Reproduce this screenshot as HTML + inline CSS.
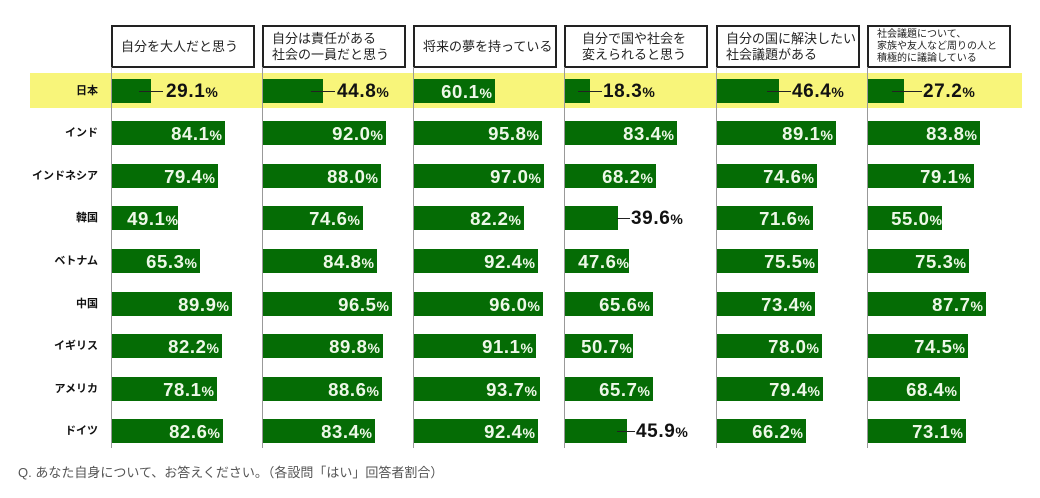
<!DOCTYPE html>
<html><head><meta charset="utf-8"><style>
body{margin:0;width:1040px;height:498px;background:#fff;position:relative;overflow:hidden;font-family:"Liberation Sans","Noto Sans CJK JP",sans-serif}
.h{position:absolute;top:25px;width:140px;height:39px;border:2px solid #222;box-sizing:content-box;font-size:13px;line-height:16px;color:#222;display:flex;align-items:center;padding-left:0}
.h span{padding-left:8px}
.h.s{font-size:10px;line-height:12px}
.v{position:absolute;top:67px;width:1px;height:381px;background:#999}
.y{position:absolute;left:30px;top:73px;width:992px;height:35px;background:#f8f57a}
.r{position:absolute;left:0;width:1040px;height:24px}
.n{position:absolute;right:942px;top:0;line-height:24px;font-size:11px;font-weight:bold;color:#111;white-space:nowrap}
.b{position:absolute;top:0;height:24px;background:#056c05;color:#eef8e8;font-weight:bold;font-size:18.5px;letter-spacing:0.6px;line-height:25px;text-align:right;box-sizing:border-box;padding-right:3px;white-space:nowrap}
.b i,.o i{font-style:normal;font-size:14px;letter-spacing:0}
.o{position:absolute;top:0;line-height:25px;font-weight:bold;font-size:19px;letter-spacing:0.6px;color:#111;white-space:nowrap}
.l{position:absolute;top:12px;height:1px;width:24px;background:#222}
.f{position:absolute;left:18px;top:462px;font-size:13px;color:#555}
</style></head><body>
<div class="h" style="left:111px"><span>自分を大人だと思う</span></div>
<div class="h" style="left:262px"><span>自分は責任がある<br>社会の一員だと思う</span></div>
<div class="h" style="left:413px"><span>将来の夢を持っている</span></div>
<div class="h" style="left:564px"><span style="padding-left:16px">自分で国や社会を<br>変えられると思う</span></div>
<div class="h" style="left:716px"><span>自分の国に解決したい<br>社会議題がある</span></div>
<div class="h s" style="left:867px"><span>社会議題について、<br>家族や友人など周りの人と<br>積極的に議論している</span></div>
<div class="y"></div>
<div class="v" style="left:111px"></div><div class="v" style="left:262px"></div><div class="v" style="left:413px"></div><div class="v" style="left:564px"></div><div class="v" style="left:716px"></div><div class="v" style="left:867px"></div>

<div class="r" style="top:79px"><div class="n">日本</div>
<div class="b" style="left:112px;width:39px"></div><div class="l" style="left:139px"></div><div class="o" style="left:166px">29.1<i>%</i></div>
<div class="b" style="left:263px;width:60px"></div><div class="l" style="left:311px"></div><div class="o" style="left:337px">44.8<i>%</i></div>
<div class="b" style="left:414px;width:81px">60.1<i>%</i></div>
<div class="b" style="left:565px;width:25px"></div><div class="l" style="left:578px"></div><div class="o" style="left:603px">18.3<i>%</i></div>
<div class="b" style="left:717px;width:62px"></div><div class="l" style="left:767px"></div><div class="o" style="left:792px">46.4<i>%</i></div>
<div class="b" style="left:868px;width:36px"></div><div class="l" style="left:892px;width:30px"></div><div class="o" style="left:923px">27.2<i>%</i></div>
</div>

<div class="r" style="top:121px"><div class="n">インド</div>
<div class="b" style="left:112px;width:113px">84.1<i>%</i></div>
<div class="b" style="left:263px;width:123px">92.0<i>%</i></div>
<div class="b" style="left:414px;width:128px">95.8<i>%</i></div>
<div class="b" style="left:565px;width:112px">83.4<i>%</i></div>
<div class="b" style="left:717px;width:119px">89.1<i>%</i></div>
<div class="b" style="left:868px;width:112px">83.8<i>%</i></div>
</div>

<div class="r" style="top:164px"><div class="n">インドネシア</div>
<div class="b" style="left:112px;width:106px">79.4<i>%</i></div>
<div class="b" style="left:263px;width:118px">88.0<i>%</i></div>
<div class="b" style="left:414px;width:130px">97.0<i>%</i></div>
<div class="b" style="left:565px;width:91px">68.2<i>%</i></div>
<div class="b" style="left:717px;width:100px">74.6<i>%</i></div>
<div class="b" style="left:868px;width:106px">79.1<i>%</i></div>
</div>

<div class="r" style="top:206px"><div class="n">韓国</div>
<div class="b" style="left:112px;width:66px;padding-right:0">49.1<i>%</i></div>
<div class="b" style="left:263px;width:100px">74.6<i>%</i></div>
<div class="b" style="left:414px;width:110px">82.2<i>%</i></div>
<div class="b" style="left:565px;width:53px"></div><div class="l" style="left:617px;width:13px"></div><div class="o" style="left:631px">39.6<i>%</i></div>
<div class="b" style="left:717px;width:96px">71.6<i>%</i></div>
<div class="b" style="left:868px;width:74px;padding-right:0">55.0<i>%</i></div>
</div>

<div class="r" style="top:249px"><div class="n">ベトナム</div>
<div class="b" style="left:112px;width:88px">65.3<i>%</i></div>
<div class="b" style="left:263px;width:114px">84.8<i>%</i></div>
<div class="b" style="left:414px;width:124px">92.4<i>%</i></div>
<div class="b" style="left:565px;width:64px;padding-right:0">47.6<i>%</i></div>
<div class="b" style="left:717px;width:101px">75.5<i>%</i></div>
<div class="b" style="left:868px;width:101px">75.3<i>%</i></div>
</div>

<div class="r" style="top:292px"><div class="n">中国</div>
<div class="b" style="left:112px;width:120px">89.9<i>%</i></div>
<div class="b" style="left:263px;width:129px">96.5<i>%</i></div>
<div class="b" style="left:414px;width:129px">96.0<i>%</i></div>
<div class="b" style="left:565px;width:88px">65.6<i>%</i></div>
<div class="b" style="left:717px;width:98px">73.4<i>%</i></div>
<div class="b" style="left:868px;width:118px">87.7<i>%</i></div>
</div>

<div class="r" style="top:334px"><div class="n">イギリス</div>
<div class="b" style="left:112px;width:110px">82.2<i>%</i></div>
<div class="b" style="left:263px;width:120px">89.8<i>%</i></div>
<div class="b" style="left:414px;width:122px">91.1<i>%</i></div>
<div class="b" style="left:565px;width:68px;padding-right:1px">50.7<i>%</i></div>
<div class="b" style="left:717px;width:105px">78.0<i>%</i></div>
<div class="b" style="left:868px;width:100px">74.5<i>%</i></div>
</div>

<div class="r" style="top:377px"><div class="n">アメリカ</div>
<div class="b" style="left:112px;width:105px">78.1<i>%</i></div>
<div class="b" style="left:263px;width:119px">88.6<i>%</i></div>
<div class="b" style="left:414px;width:126px">93.7<i>%</i></div>
<div class="b" style="left:565px;width:88px">65.7<i>%</i></div>
<div class="b" style="left:717px;width:106px">79.4<i>%</i></div>
<div class="b" style="left:868px;width:92px">68.4<i>%</i></div>
</div>

<div class="r" style="top:419px"><div class="n">ドイツ</div>
<div class="b" style="left:112px;width:111px">82.6<i>%</i></div>
<div class="b" style="left:263px;width:112px">83.4<i>%</i></div>
<div class="b" style="left:414px;width:124px">92.4<i>%</i></div>
<div class="b" style="left:565px;width:62px"></div><div class="l" style="left:617px;width:18px"></div><div class="o" style="left:636px">45.9<i>%</i></div>
<div class="b" style="left:717px;width:89px">66.2<i>%</i></div>
<div class="b" style="left:868px;width:98px">73.1<i>%</i></div>
</div>

<div class="f">Q. あなた自身について、お答えください。（各設問「はい」回答者割合）</div>
</body></html>
